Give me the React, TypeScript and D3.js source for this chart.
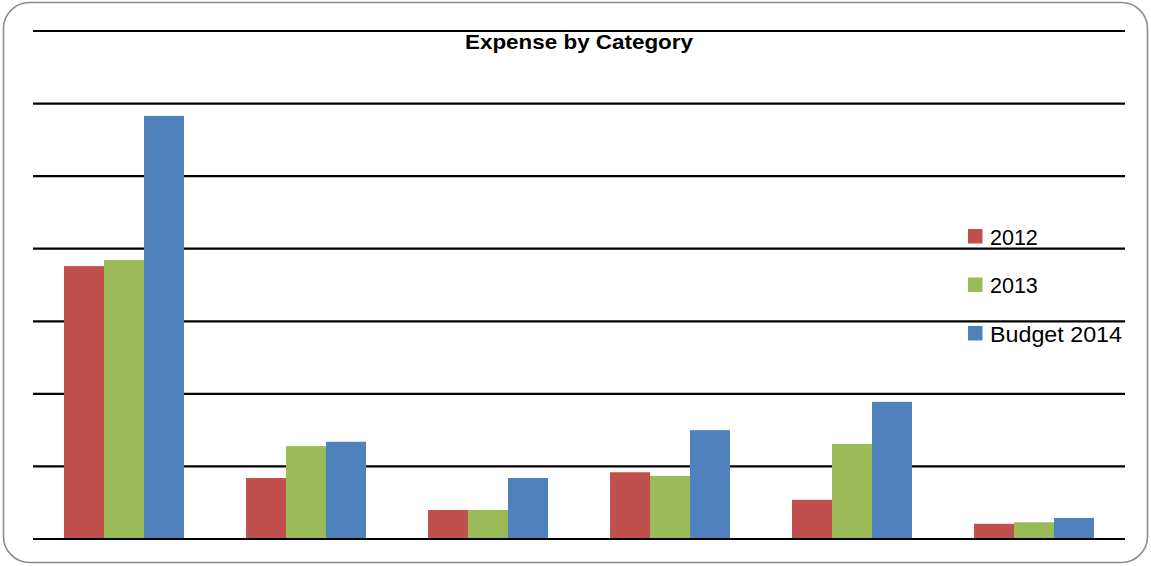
import React from "react";
import * as d3 from "d3";

const categories = ["Category 1", "Category 2", "Category 3", "Category 4", "Category 5", "Category 6"];
const seriesNames = ["2012", "2013", "Budget 2014"];
const values2012 = [3.76, 0.84, 0.40, 0.92, 0.54, 0.21];
const values2013 = [3.845, 1.28, 0.40, 0.87, 1.31, 0.23];
const valuesBudget2014 = [5.83, 1.34, 0.84, 1.50, 1.89, 0.29];
const gridTicks = [0, 1, 2, 3, 4, 5, 6, 7];
const colors = ["#C0504D", "#9BBB59", "#4F81BD"];

const seriesValues = [values2012, values2013, valuesBudget2014];

export default function App() {
  const W = 1151;
  const H = 566;
  const x0 = d3.scaleBand<string>().domain(categories).range([33, 1125]).padding(0);
  const bw = x0.bandwidth();
  const x1 = d3
    .scaleBand<string>()
    .domain(seriesNames)
    .range([(bw - 120) / 2, (bw + 120) / 2])
    .padding(0);
  const y = d3.scaleLinear().domain([0, 7]).range([539, 31]);

  return (
    <svg
      width={W}
      height={H}
      style={{ position: "absolute", left: 0, top: 0, background: "#fff" }}
      fontFamily="'Liberation Sans', Arial, sans-serif"
    >
      <rect x={3.5} y={2.5} width={1144} height={560} rx={26} ry={26} fill="#fff" stroke="#8c8c8c" strokeWidth={1.6} />
      {gridTicks.map((t) => (
        <line key={t} x1={33} x2={1125} y1={y(t)} y2={y(t)} stroke="#000" strokeWidth={2.2} />
      ))}
      {categories.map((c, i) => (
        <g key={c} transform={`translate(${x0(c)},0)`}>
          {seriesNames.map((s, j) => {
            const v = seriesValues[j][i];
            return (
              <rect
                key={s}
                x={x1(s)}
                y={y(v)}
                width={x1.bandwidth()}
                height={y(0) - y(v) - 1}
                fill={colors[j]}
              />
            );
          })}
        </g>
      ))}
      <text
        x={579}
        y={48.5}
        textAnchor="middle"
        fontWeight="bold"
        fontSize={20.5}
        textLength={228}
        lengthAdjust="spacingAndGlyphs"
        fill="#000"
      >
        Expense by Category
      </text>
      {seriesNames.map((s, j) => (
        <g key={s} transform={`translate(968,${229 + j * 48.5})`}>
          <rect x={0} y={0} width={14.5} height={14.5} fill={colors[j]} />
          <text
            x={22}
            y={15.5}
            fontSize={21.5}
            fill="#000"
            {...(j === 2 ? { textLength: 132, lengthAdjust: "spacingAndGlyphs" } : {})}
          >
            {s}
          </text>
        </g>
      ))}
    </svg>
  );
}
